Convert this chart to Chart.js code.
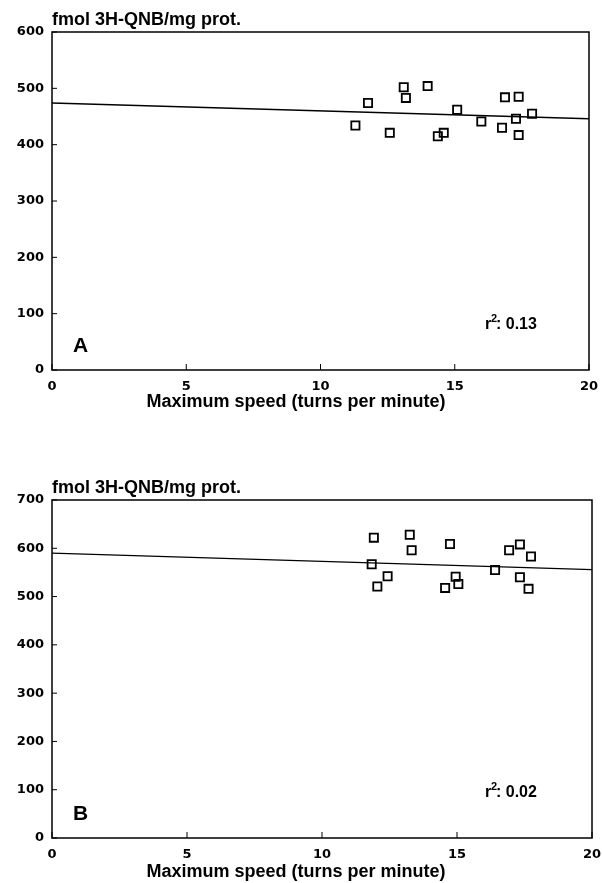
<!DOCTYPE html>
<html>
<head>
<meta charset="utf-8">
<script src="https://cdn.jsdelivr.net/npm/chart.js@4.4.0/dist/chart.umd.min.js"></script>
<style>
  body { margin: 0; background: #fff; }
  .panel { position: absolute; left: 0; width: 602px; }
  #boxA { top: 0; height: 420px; }
  #boxB { top: 440px; height: 443px; }
</style>
</head>
<body>
<div class="panel" id="boxA"><canvas id="chartA"></canvas></div>
<div class="panel" id="boxB"><canvas id="chartB"></canvas></div>
<script>
// panel A: receptor binding vs maximum speed
const speedA = [11.3, 11.77, 12.58, 13.1, 13.18, 13.99, 14.37, 14.59, 15.09, 15.99, 16.76, 16.87, 17.28, 17.38, 17.38, 17.88];
const bindingA = [434, 474, 421, 502, 483, 504, 415, 421, 462, 441, 430, 484, 446, 485, 417, 455];
const fitA = [474, 446];  // regression line at x = 0 and x = 20

// panel B
const speedB = [11.92, 13.25, 13.32, 14.74, 16.93, 17.33, 17.74, 11.84, 12.43, 12.05, 14.95, 15.05, 14.56, 16.41, 17.33, 17.65];
const bindingB = [622, 628, 596, 609, 596, 608, 583, 567, 542, 521, 541, 526, 518, 555, 540, 516];
const fitB = [590, 556];

const fitX = [0, 20];
const yTitle = 'fmol 3H-QNB/mg prot.';
const xTitle = 'Maximum speed (turns per minute)';

const tickFont = { family: 'DejaVu Sans', weight: 'bold', size: 13 };

// frame, inner tick marks and text labels
const decor = {
  id: 'decor',
  afterDraw(chart, args, opts) {
    const { ctx, chartArea: a, scales: { x, y } } = chart;
    ctx.save();
    ctx.strokeStyle = '#000';
    ctx.lineWidth = 1.5;
    ctx.strokeRect(a.left, a.top, a.right - a.left, a.bottom - a.top);
    ctx.lineWidth = 1;
    ctx.beginPath();
    y.ticks.forEach(t => {
      const py = y.getPixelForValue(t.value);
      ctx.moveTo(a.left, py); ctx.lineTo(a.left + 5, py);
    });
    x.ticks.forEach(t => {
      const px = x.getPixelForValue(t.value);
      ctx.moveTo(px, a.bottom); ctx.lineTo(px, a.bottom - 6);
    });
    ctx.stroke();

    ctx.fillStyle = '#000';
    ctx.textBaseline = 'middle';
    ctx.font = 'bold 18px "Liberation Sans"';
    ctx.textAlign = 'left';
    ctx.fillText(yTitle, a.left, a.top - 12);

    // x title sits a little left of the plot centre in the original
    ctx.textAlign = 'center';
    ctx.fillText(xTitle, 296, a.bottom + opts.titleGap);
    ctx.textAlign = 'left';

    ctx.font = 'bold 21px "Liberation Sans"';
    ctx.fillText(opts.letter, a.left + 21, a.bottom - 24);

    ctx.font = 'bold 16px "Liberation Sans"';
    const rx = a.left + 433, ry = a.bottom - 45;
    ctx.fillText('r', rx, ry);
    ctx.font = 'bold 11px "Liberation Sans"';
    ctx.fillText('2', rx + 6, ry - 6);
    ctx.font = 'bold 16px "Liberation Sans"';
    ctx.fillText(': ' + opts.r2, rx + 11, ry);
    ctx.restore();
  }
};

function makeChart(id, speed, binding, fit, yMax, letter, r2, padTop, padRight, xHeight, titleGap) {
  const points = speed.map((s, i) => ({ x: s, y: binding[i] }));
  const line = fitX.map((s, i) => ({ x: s, y: fit[i] }));
  return new Chart(document.getElementById(id), {
    type: 'scatter',
    data: {
      datasets: [
        {
          type: 'line',
          data: line,
          borderColor: '#000',
          borderWidth: 1.3,
          pointRadius: 0,
          fill: false
        },
        {
          data: points,
          pointStyle: 'rect',
          pointRadius: 5.8,
          borderColor: '#000',
          borderWidth: 1.8,
          backgroundColor: 'rgba(0,0,0,0)'
        }
      ]
    },
    options: {
      responsive: true,
      maintainAspectRatio: false,
      animation: false,
      layout: { padding: { top: padTop, right: padRight, left: 0, bottom: 0 } },
      plugins: {
        legend: { display: false },
        tooltip: { enabled: false },
        decor: { letter: letter, r2: r2, titleGap: titleGap }
      },
      scales: {
        x: {
          type: 'linear',
          min: 0, max: 20,
          ticks: { stepSize: 5, color: '#000', font: tickFont, padding: 9, maxRotation: 0 },
          grid: { display: false, drawTicks: false },
          border: { display: false },
          afterFit(s) { s.height = xHeight; s.paddingLeft = 0; s.paddingRight = 0; }
        },
        y: {
          min: 0, max: yMax,
          ticks: { stepSize: 100, color: '#000', font: tickFont, padding: 8 },
          grid: { display: false, drawTicks: false },
          border: { display: false },
          afterFit(s) { s.width = 52; }
        }
      }
    },
    plugins: [decor]
  });
}

makeChart('chartA', speedA, bindingA, fitA, 600, 'A', '0.13', 32, 13, 50, 32);
makeChart('chartB', speedB, bindingB, fitB, 700, 'B', '0.02', 60, 10, 45, 34);
</script>
</body>
</html>
